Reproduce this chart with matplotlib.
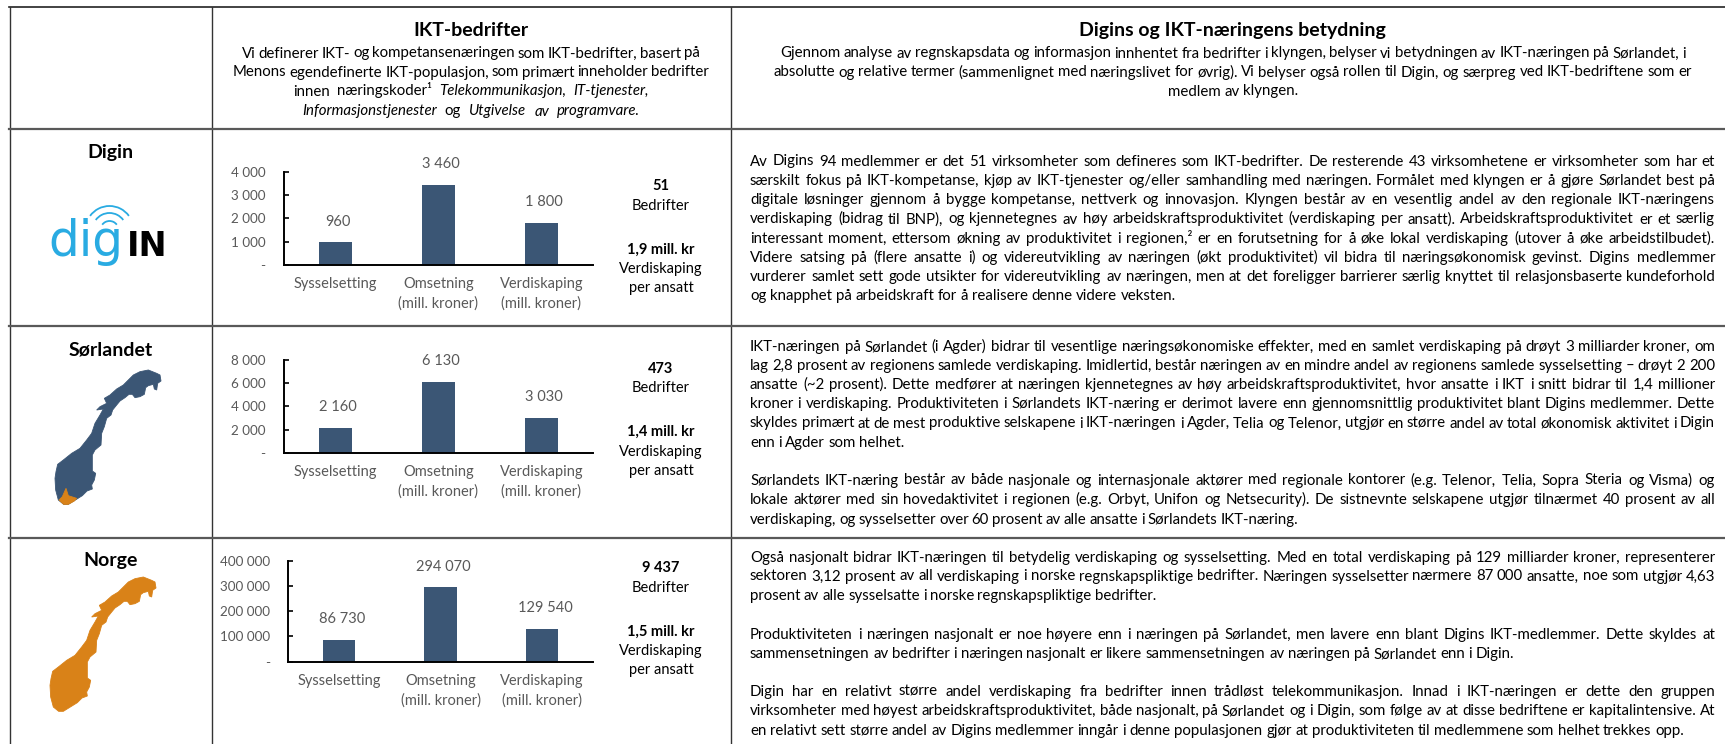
import matplotlib
matplotlib.use('Agg')
import matplotlib.pyplot as plt
from matplotlib.patches import Arc, Polygon

plt.rcParams['font.family'] = ['Lato', 'DejaVu Sans']

W, H = 1725, 744
BODY = 10.8
CHART = 10.5
TICK = 9.7
TITLE = 14
DARK = '#3b5675'
ORANGE = '#d98218'
GREY = '#595959'

categories = ['Sysselsetting', 'Omsetning\n(mill. kroner)', 'Verdiskaping\n(mill. kroner)']
digin_values = [960, 3460, 1800]
sorlandet_values = [2160, 6130, 3030]
norge_values = [86730, 294070, 129540]
digin_ticks = [0, 1000, 2000, 3000, 4000]
sorlandet_ticks = [0, 2000, 4000, 6000, 8000]
norge_ticks = [0, 100000, 200000, 300000, 400000]

digin_side = ['51', 'Bedrifter', '1,9 mill. kr', 'Verdiskaping', 'per ansatt']
sorlandet_side = ['473', 'Bedrifter', '1,4 mill. kr', 'Verdiskaping', 'per ansatt']
norge_side = ['9 437', 'Bedrifter', '1,5 mill. kr', 'Verdiskaping', 'per ansatt']

# ~ in front of a word = italic
left_head = [
    ('Vi definerer IKT- og kompetansenæringen som IKT-bedrifter, basert på', 242, 700, 53),
    ('Menons egendefinerte IKT-populasjon, som primært inneholder bedrifter', 233, 709, 72),
    ('innen næringskoder¹ ~Telekommunikasjon, ~IT-tjenester,', 293, 649, 91),
    ('~Informasjonstjenester og ~Utgivelse ~av ~programvare.', 302, 640, 111),
]
right_head = [
    ('Gjennom analyse av regnskapsdata og informasjon innhentet fra bedrifter i klyngen, belyser vi betydningen av IKT-næringen på Sørlandet, i', 780, 1686, 53),
    ('absolutte og relative termer (sammenlignet med næringslivet for øvrig). Vi belyser også rollen til Digin, og særpreg ved IKT-bedriftene som er', 773, 1692, 72),
    ('medlem av klyngen.', 1168, 1298, 91),
]

R = 1715
L = 750
body_lines = [
    ('Av Digins 94 medlemmer er det 51 virksomheter som defineres som IKT-bedrifter. De resterende 43 virksomhetene er virksomheter som har et', R, 161),
    ('særskilt fokus på IKT-kompetanse, kjøp av IKT-tjenester og/eller samhandling med næringen. Formålet med klyngen er å gjøre Sørlandet best på', R, 180.3),
    ('digitale løsninger gjennom å bygge kompetanse, nettverk og innovasjon. Klyngen består av en vesentlig andel av den regionale IKT-næringens', R, 199.6),
    ('verdiskaping (bidrag til BNP), og kjennetegnes av høy arbeidskraftsproduktivitet (verdiskaping per ansatt). Arbeidskraftsproduktivitet er et særlig', R, 219),
    ('interessant moment, ettersom økning av produktivitet i regionen,² er en forutsetning for å øke lokal verdiskaping (utover å øke arbeidstilbudet).', R, 238.3),
    ('Videre satsing på (flere ansatte i) og videreutvikling av næringen (økt produktivitet) vil bidra til næringsøkonomisk gevinst. Digins medlemmer', R, 257.3),
    ('vurderer samlet sett gode utsikter for videreutvikling av næringen, men at det foreligger barrierer særlig knyttet til relasjonsbaserte kundeforhold', R, 276.3),
    ('og knapphet på arbeidskraft for å realisere denne videre veksten.', 1176, 295.7),
    ('IKT-næringen på Sørlandet (i Agder) bidrar til vesentlige næringsøkonomiske effekter, med en samlet verdiskaping på drøyt 3 milliarder kroner, om', R, 346.7),
    ('lag 2,8 prosent av regionens samlede verdiskaping. Imidlertid, består næringen av en mindre andel av regionens samlede sysselsetting – drøyt 2 200', R, 365.7),
    ('ansatte (~2 prosent). Dette medfører at næringen kjennetegnes av høy arbeidskraftsproduktivitet, hvor ansatte i IKT i snitt bidrar til 1,4 millioner', R, 384.3),
    ('kroner i verdiskaping. Produktiviteten i Sørlandets IKT-næring er derimot lavere enn gjennomsnittlig produktivitet blant Digins medlemmer. Dette', R, 403.3),
    ('skyldes primært at de mest produktive selskapene i IKT-næringen i Agder, Telia og Telenor, utgjør en større andel av total økonomisk aktivitet i Digin', R, 423),
    ('enn i Agder som helhet.', 904, 442.7),
    ('Sørlandets IKT-næring består av både nasjonale og internasjonale aktører med regionale kontorer (e.g. Telenor, Telia, Sopra Steria og Visma) og', R, 480),
    ('lokale aktører med sin hovedaktivitet i regionen (e.g. Orbyt, Unifon og Netsecurity). De sistnevnte selskapene utgjør tilnærmet 40 prosent av all', R, 499.3),
    ('verdiskaping, og sysselsetter over 60 prosent av alle ansatte i Sørlandets IKT-næring.', 1298, 519.3),
    ('Også nasjonalt bidrar IKT-næringen til betydelig verdiskaping og sysselsetting. Med en total verdiskaping på 129 milliarder kroner, representerer', R, 557.3),
    ('sektoren 3,12 prosent av all verdiskaping i norske regnskapspliktige bedrifter. Næringen sysselsetter nærmere 87 000 ansatte, noe som utgjør 4,63', R, 576),
    ('prosent av alle sysselsatte i norske regnskapspliktige bedrifter.', 1156, 595.3),
    ('Produktiviteten i næringen nasjonalt er noe høyere enn i næringen på Sørlandet, men lavere enn blant Digins IKT-medlemmer. Dette skyldes at', R, 634.3),
    ('sammensetningen av bedrifter i næringen nasjonalt er likere sammensetningen av næringen på Sørlandet enn i Digin.', 1514, 653.7),
    ('Digin har en relativt større andel verdiskaping fra bedrifter innen trådløst telekommunikasjon. Innad i IKT-næringen er dette den gruppen', R, 691.3),
    ('virksomheter med høyest arbeidskraftsproduktivitet, både nasjonalt, på Sørlandet og i Digin, som følge av at disse bedriftene er kapitalintensive. At', R, 710.7),
    ('en relativt sett større andel av Digins medlemmer inngår i denne populasjonen gjør at produktiviteten til medlemmene som helhet trekkes opp.', 1684, 730.7),
]

# rough outline of Norway, read off a 3x crop (divided by 3 when drawn)
norway = [(345, 30), (348, 48), (338, 55), (335, 75), (328, 72), (325, 58), (310, 62), (302, 68), (298, 88),
          (285, 95), (270, 98), (262, 88), (252, 88), (240, 98), (225, 108), (215, 120), (203, 135), (198, 150),
          (185, 160), (178, 185), (170, 205), (168, 240), (150, 255), (142, 270), (142, 318), (152, 325),
          (148, 345), (140, 360), (142, 372), (126, 378), (112, 392), (91, 405), (70, 418), (56, 418), (40, 405),
          (32, 375), (30, 340), (33, 320), (38, 298), (55, 285), (80, 265), (105, 250), (125, 225), (140, 205),
          (150, 175), (165, 150), (175, 132), (155, 135), (165, 125), (185, 115), (178, 100), (195, 90),
          (215, 72), (235, 60), (250, 45), (265, 30), (285, 20), (310, 15), (335, 25)]
agder = [(63, 370), (70, 392), (95, 400), (88, 408), (70, 418), (56, 418), (42, 405), (52, 395)]

fig = plt.figure(figsize=(W / 100, H / 100), dpi=100)
bg = fig.add_axes([0, 0, 1, 1])
bg.set_xlim(0, W)
bg.set_ylim(H, 0)
bg.axis('off')
rend = fig.canvas.get_renderer()


def word_w(s, **kw):
    t = bg.text(0, 0, s, **kw)
    w = t.get_window_extent(rend).width
    t.remove()
    return w


def spread(line, x0, x1, yc, size=BODY):
    # one text per word so the line fills x0..x1
    words = line.split(' ')
    styles = ['italic' if w.startswith('~') else 'normal' for w in words]
    words = [w.lstrip('~') for w in words]
    widths = [word_w(w, fontsize=size, style=s) for w, s in zip(words, styles)]
    gap = (x1 - x0 - sum(widths)) / max(len(words) - 1, 1)
    x = x0
    for w, s, ww in zip(words, styles, widths):
        bg.text(x, yc + 4.5, w, fontsize=size, style=s, va='baseline', ha='left', color='black')
        x += ww + gap


def fmt(v):
    return f'{v:,}'.replace(',', ' ')


def bars(values, ticks, left, base, top):
    ax = fig.add_axes([left / W, 1 - base / H, (593 - left) / W, (base - top) / H])
    ax.bar(range(3), values, width=0.32, color=DARK)
    ax.set_xlim(-0.5, 2.5)
    ax.set_ylim(ticks[0], ticks[-1])
    ax.set_xticks(range(3))
    ax.set_xticklabels(categories, fontsize=CHART, color=GREY, linespacing=1.42)
    ax.set_yticks(ticks)
    ax.set_yticklabels(['-' if v == 0 else fmt(v) for v in ticks], fontsize=TICK, color=GREY)
    ax.tick_params(axis='x', length=0, pad=9)
    ax.tick_params(axis='y', direction='in', length=3.5, width=1.2, pad=13, color='black')
    for s in ['top', 'right']:
        ax.spines[s].set_visible(False)
    for s in ['left', 'bottom']:
        ax.spines[s].set_linewidth(1.4)
    ax.patch.set_alpha(0)
    for i, v in enumerate(values):
        ax.annotate(fmt(v), (i, v), xytext=(2, 15), textcoords='offset points', ha='center', va='center',
                    fontsize=CHART, color=GREY, annotation_clip=False)


def side(lines, ys):
    for i, (s, y) in enumerate(zip(lines, ys)):
        bg.text(661, y + 4.5, s, fontsize=CHART, ha='center', va='baseline',
                fontweight='bold' if i in (0, 2) else 'normal')


def draw_map(ox, oy, color, outline, z=2):
    pts = [(ox + x / 3, oy + y / 3) for x, y in outline]
    bg.add_patch(Polygon(pts, closed=True, fc=color, ec=color, lw=0.6, zorder=z))


# table lines
for x in [9.5, 211.5, 730.5]:
    bg.plot([x, x], [7, H], color='#333333', lw=1.0, solid_capstyle='butt')
bg.plot([9, W], [7.3, 7.3], color='#222222', lw=1.2)
for y in [128.7, 325.7, 537.7]:
    bg.plot([9, W], [y, y], color='#595959', lw=1.6)

# headers
bg.text(471, 36, 'IKT-bedrifter', fontsize=TITLE, fontweight='bold', ha='center', va='baseline')
bg.text(1232.5, 36, 'Digins og IKT-næringens betydning', fontsize=TITLE, fontweight='bold', ha='center', va='baseline')
for line, x0, x1, y in left_head + right_head:
    spread(line, x0, x1, y)
for line, x1, y in body_lines:
    spread(line, L, x1, y)

# row labels
bg.text(110.5, 158, 'Digin', fontsize=14, fontweight='bold', ha='center', va='baseline')
bg.text(110.5, 355, 'Sørlandet', fontsize=14, fontweight='bold', ha='center', va='baseline')
bg.text(110.5, 566, 'Norge', fontsize=14, fontweight='bold', ha='center', va='baseline')

# digin logo
BLUE = '#29abe2'
bg.text(48, 256.5, 'dig', fontsize=35, color=BLUE, family='DejaVu Sans', va='baseline', ha='left')
bg.text(127, 256.5, 'IN', fontsize=24, color='black', family='DejaVu Sans', fontweight='bold', va='baseline', ha='left')
for r in [9, 17, 24]:
    bg.add_patch(Arc((109.5, 230), 2 * r, 2 * r, theta1=216, theta2=324, color=BLUE, lw=1.3))

# maps
draw_map(45, 365, DARK, norway)
draw_map(45, 365, ORANGE, agder, z=3)
draw_map(40, 572, ORANGE, norway)

# charts
bars(digin_values, digin_ticks, 283.6, 264.7, 172)
bars(sorlandet_values, sorlandet_ticks, 283.6, 452.7, 360)
bars(norge_values, norge_ticks, 288.3, 661.7, 560.7)

side(digin_side, [185, 205, 249.3, 268.3, 287.3])
side(sorlandet_side, [368.3, 387, 431.3, 451.3, 470.7])
side(norge_side, [567, 587, 631, 650.3, 669.3])

fig.savefig('out.png', dpi=100)
